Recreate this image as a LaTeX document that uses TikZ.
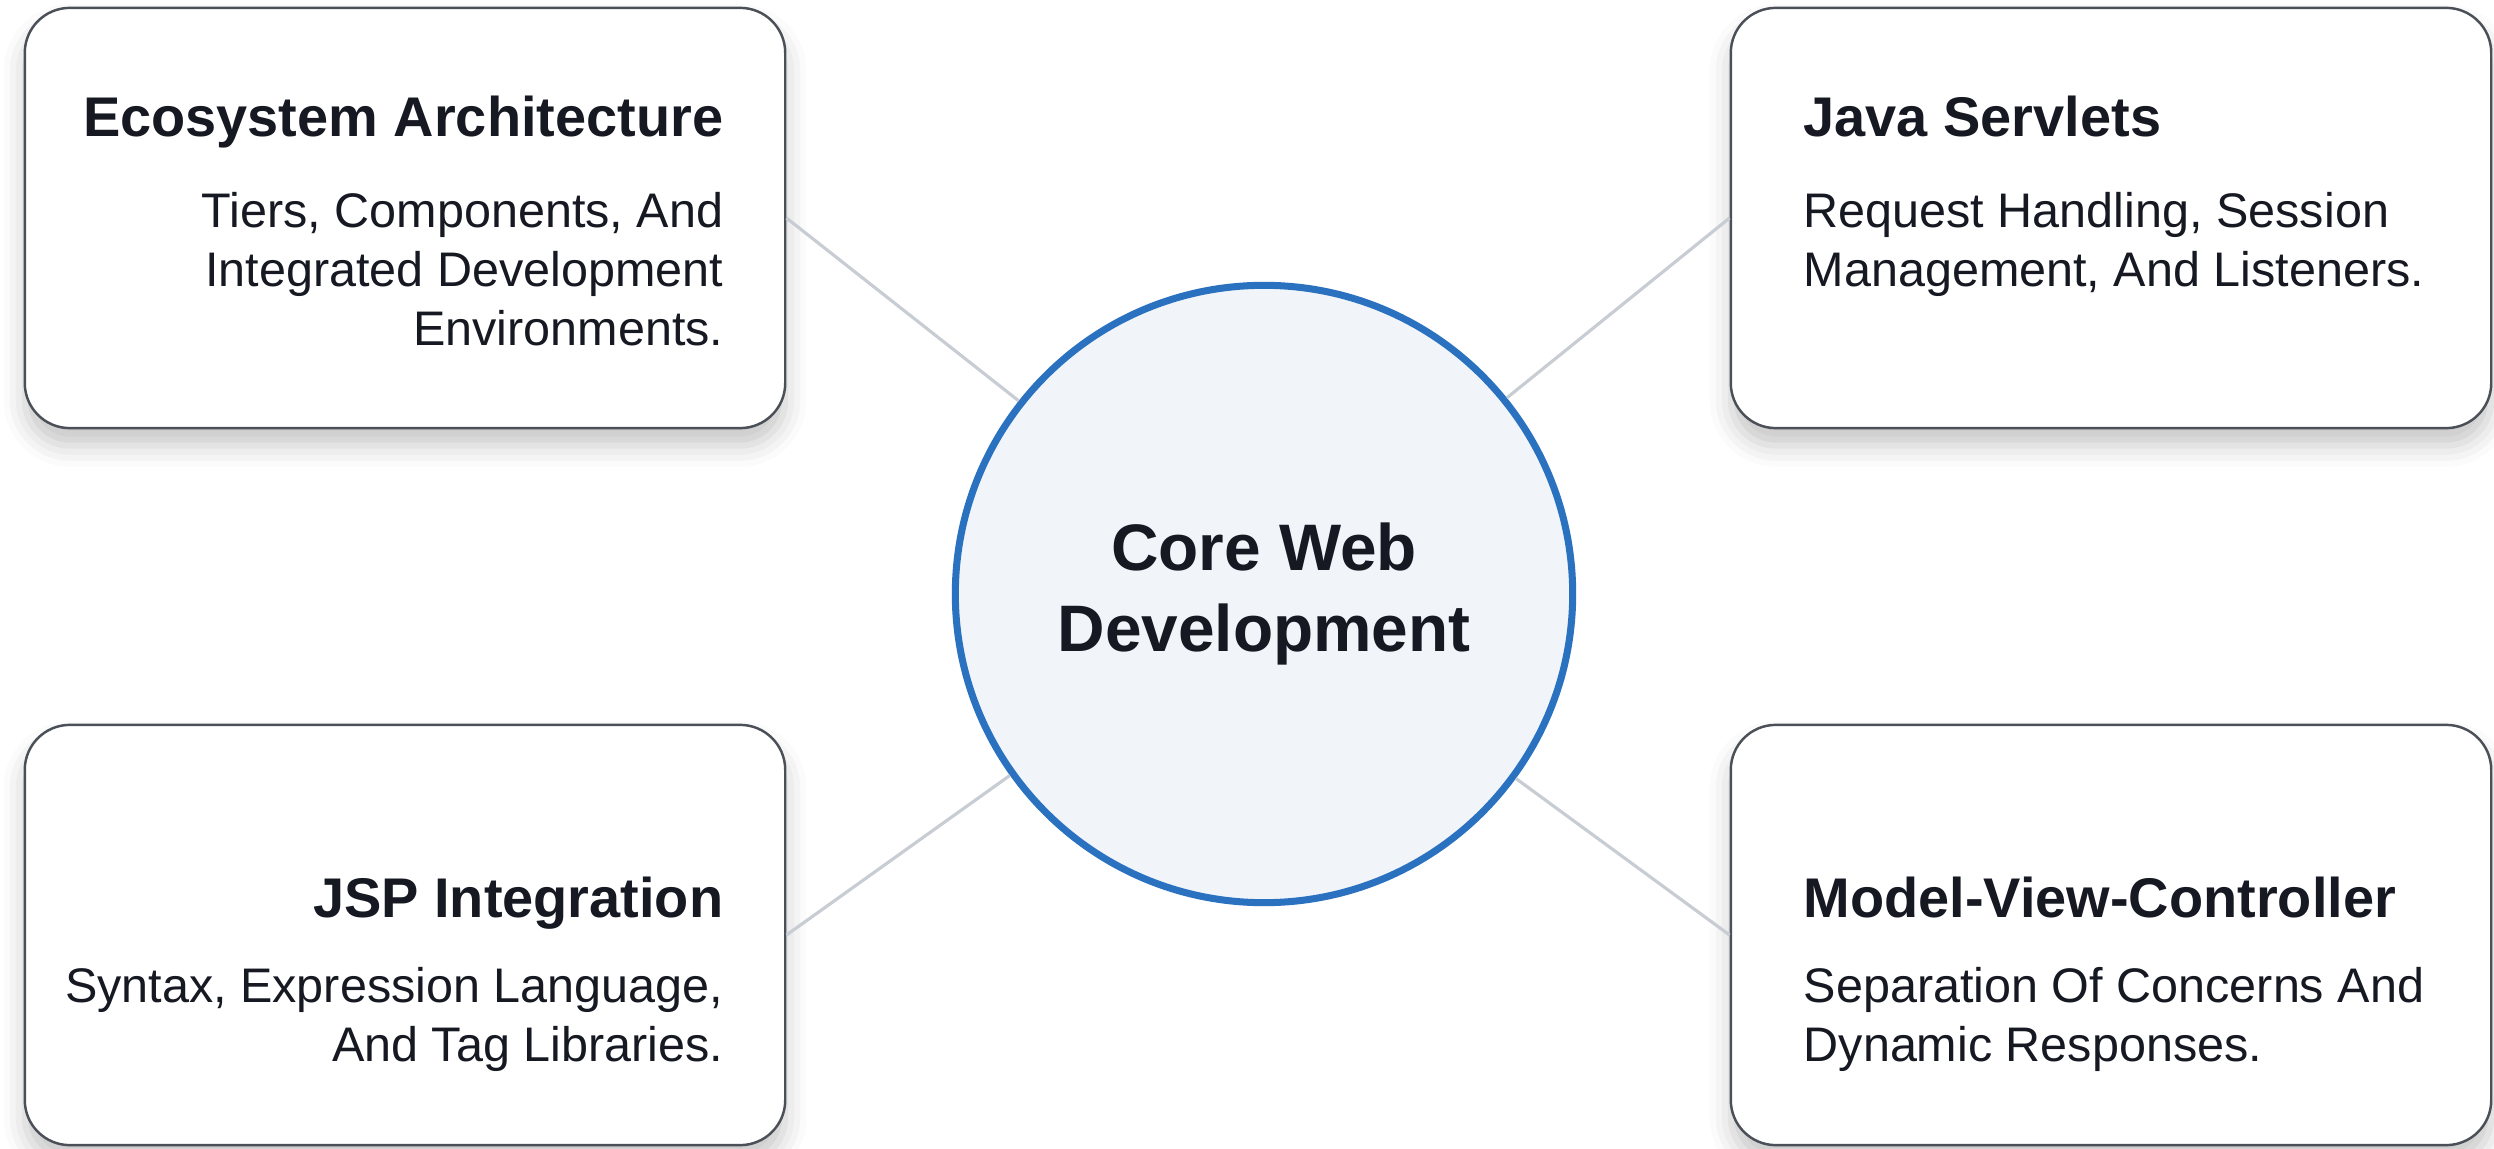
\documentclass[tikz,border=0pt]{standalone}
\usepackage{fontspec}
\setmainfont{Liberation Sans}
\usepackage{tikz}
\usetikzlibrary{positioning,shadows.blur}
\definecolor{hubblue}{HTML}{2A71C0}
\definecolor{hubfill}{HTML}{F1F5FA}
\definecolor{linkgray}{HTML}{C8CCD3}
\definecolor{cardline}{HTML}{4B5058}
\definecolor{ink}{HTML}{161922}
\tikzset{%
	card/.style  = {draw=cardline, line width=0.7pt, fill=white, rectangle, rounded corners=0.45cm, minimum width=7.6cm, minimum height=4.2cm, blur shadow={shadow xshift=0pt, shadow yshift=-5pt, shadow blur radius=6pt, shadow opacity=22}}, % Card
	hub/.style   = {draw=hubblue, line width=2pt, fill=hubfill, circle, minimum size=6.17cm, inner sep=0pt, align=center, text=ink, font=\fontsize{18.7}{23.3}\selectfont\bfseries}, % Centre
	title/.style = {inner sep=0pt, text=ink, font=\fontsize{15.9}{19}\selectfont\bfseries}, % Heading
	descl/.style = {inner sep=0pt, align=left, text=ink, font=\fontsize{13.8}{16.8}\selectfont}, % Text, left
	descr/.style = {inner sep=0pt, align=right, text=ink, font=\fontsize{13.8}{16.8}\selectfont}, % Text, right
	link/.style  = {draw=linkgray, line width=0.9pt}, % Connector
}
\begin{document}
\begin{tikzpicture}[x=0.01cm,y=-0.01cm]
	\useasboundingbox (0,0) rectangle (2494,1149);
	\node [card] (eco) at (405,218) {};
	\node [card] (srv) at (2111,218) {};
	\node [card] (jsp) at (405,935) {};
	\node [card] (mvc) at (2111,935) {};
	\node [hub] (core) at (1264,594) {Core Web\\Development};
	
	\node [title,anchor=base east] (ecoT) at (724,137) {Ecosystem Architecture};
	\node [descr] (ecoD) [below left=15.6pt and 0pt of ecoT.base east] {Tiers, Components, And\\Integrated Development\\Environments.};
	\node [title,anchor=base west] (srvT) at (1803,137) {Java Servlets};
	\node [descl] (srvD) [below right=15.6pt and 0pt of srvT.base west] {Request Handling, Session\\Management, And Listeners.};
	\node [title,anchor=base east] (jspT) at (724,917) {JSP Integration};
	\node [descr] (jspD) [below left=14.2pt and 0pt of jspT.base east] {Syntax, Expression Language,\\And Tag Libraries.};
	\node [title,anchor=base west] (mvcT) at (1803,917) {Model-View-Controller};
	\node [descl] (mvcD) [below right=14.2pt and 0pt of mvcT.base west] {Separation Of Concerns And\\Dynamic Responses.};
	
	\draw[link] (eco.east) -- (core);
	\draw[link] (srv.west) -- (core);
	\draw[link] (jsp.east) -- (core);
	\draw[link] (mvc.west) -- (core);
\end{tikzpicture}
\end{document}
